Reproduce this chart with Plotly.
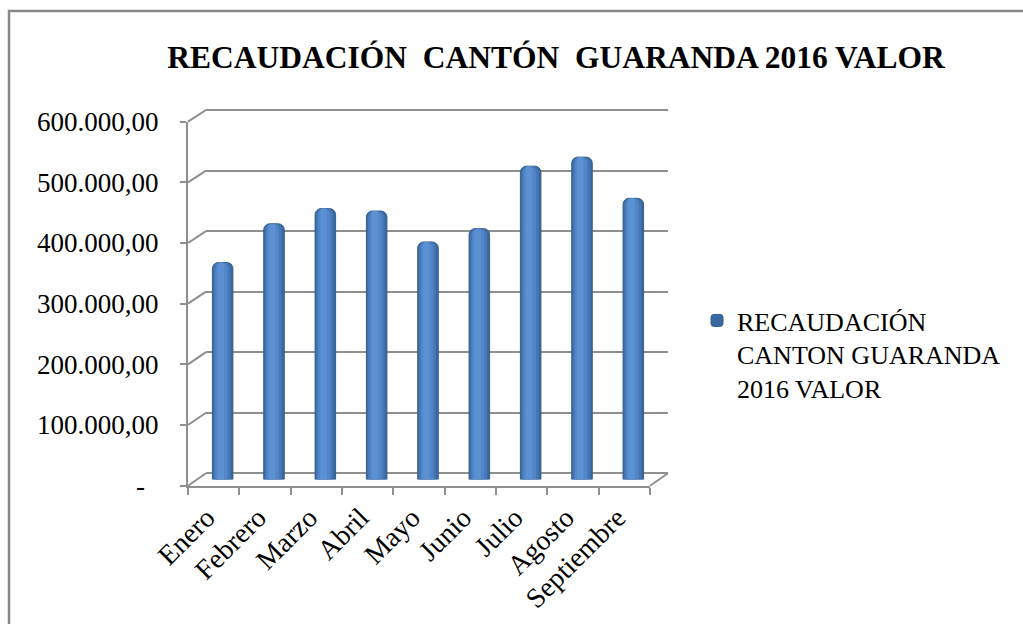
import plotly.graph_objects as go

# ---------------- data ----------------
months = ["Enero", "Febrero", "Marzo", "Abril", "Mayo", "Junio", "Julio", "Agosto", "Septiembre"]
values = [358000, 422000, 447000, 443000, 392000, 414000, 517000, 532000, 464000]
series_name = "RECAUDACIÓN<br>CANTON GUARANDA<br>2016 VALOR"
title_text = "RECAUDACIÓN\u00a0 CANTÓN\u00a0 GUARANDA 2016 VALOR"
y_tickvals = [0, 100000, 200000, 300000, 400000, 500000, 600000]
y_ticktext = ["-\u00a0\u00a0", "100.000,00", "200.000,00", "300.000,00", "400.000,00", "500.000,00", "600.000,00"]
Y_MAX = 600000

# ---------------- geometry (pixels) ----------------
W, H = 1023, 624
FONT = "Liberation Serif, serif"
GRID = "#8f8f8f"

def px(x):
    return x / W

def py(y):
    return 1 - y / H

front = dict(x0=188, x1=650, yb=485.7, yt=121.7)
back = dict(x0=206, x1=668, yb=473.3, yt=110.0)
mid = dict(x0=197, x1=659, yb=479.5, yt=115.9)
LABEL_SHIFT = 7  # px, category labels sit a little left of the category centres
PADV = 3000      # value padding so the edge gridlines of the back wall are drawn

fig = go.Figure()

fig.add_trace(go.Scatter(x=[], y=[], xaxis="x", yaxis="y", showlegend=False, hoverinfo="skip"))
fig.add_trace(go.Scatter(x=months, y=values, xaxis="x2", yaxis="y2", mode="markers",
                         marker=dict(opacity=0), showlegend=False, hoverinfo="skip"))
fig.add_trace(go.Scatter(x=[], y=[], xaxis="x4", yaxis="y2", showlegend=False, hoverinfo="skip"))

layers = [
    dict(width=0.40, offset=-0.20, color="#3a679f", legend=True, line="#34608f"),
    dict(width=0.33, offset=-0.175, color="#4777b5", legend=False, line=None),
    dict(width=0.24, offset=-0.14, color="#5286c8", legend=False, line=None),
    dict(width=0.13, offset=-0.10, color="#5b90d2", legend=False, line=None),
]
for i, L in enumerate(layers):
    fig.add_trace(go.Bar(
        x=months, y=values, xaxis="x3", yaxis="y3",
        width=[L["width"]] * len(months), offset=[L["offset"]] * len(months),
        marker=dict(color=L["color"],
                    line=dict(width=1 if L["line"] else 0, color=L["line"] or L["color"]),
                    cornerradius=6),
        name=series_name, showlegend=L["legend"], hoverinfo="skip",
    ))

shapes = []
def yfront(v):
    return front["yb"] + (front["yt"] - front["yb"]) * v / Y_MAX

def yback(v):
    return back["yb"] + (back["yt"] - back["yb"]) * v / Y_MAX

for v in y_tickvals:
    shapes.append(dict(type="line", xref="paper", yref="paper",
                       x0=px(front["x0"]), y0=py(yfront(v)), x1=px(back["x0"]), y1=py(yback(v)),
                       line=dict(color=GRID, width=2)))
shapes.append(dict(type="line", xref="paper", yref="paper",
                   x0=px(front["x1"]), y0=py(front["yb"]), x1=px(back["x1"]), y1=py(back["yb"]),
                   line=dict(color=GRID, width=2)))
shapes.append(dict(type="rect", xref="paper", yref="paper",
                   x0=px(9), y0=-0.05, x1=1.05, y1=py(11),
                   line=dict(color="#878787", width=2.5), fillcolor="rgba(0,0,0,0)"))

back_dom = [py(yback(-PADV)), py(yback(Y_MAX + PADV))]

fig.update_layout(
    width=W, height=H, autosize=False,
    margin=dict(l=0, r=0, t=0, b=0, pad=0, autoexpand=False),
    paper_bgcolor="white", plot_bgcolor="rgba(0,0,0,0)",
    font=dict(family=FONT, size=26, color="#000000"),
    barmode="overlay",
    title=dict(text="<b>" + title_text + "</b>", x=px(556), y=py(57), xanchor="center", yanchor="middle",
               automargin=False, font=dict(family=FONT, size=31.5, color="#000000")),
    showlegend=True,
    legend=dict(x=px(697), y=py(297), xanchor="left", yanchor="top", valign="top",
                font=dict(family=FONT, size=26, color="#000000"), bgcolor="rgba(0,0,0,0)",
                itemwidth=30),
    shapes=shapes,
    xaxis=dict(domain=[px(back["x0"]), px(back["x1"])], anchor="y", visible=False, range=[0, 1]),
    yaxis=dict(domain=back_dom, anchor="x", range=[-PADV, Y_MAX + PADV],
               showgrid=True, gridcolor=GRID, gridwidth=2, tickvals=y_tickvals,
               showticklabels=False, zeroline=False, showline=False, ticks=""),
    xaxis2=dict(domain=[px(front["x0"]), px(front["x1"])], anchor="y2", type="category",
                categoryorder="array", categoryarray=months, range=[-0.5, len(months) - 0.5],
                showgrid=False, showline=True, linecolor=GRID, linewidth=2, automargin=False,
                ticks="outside", tickson="boundaries", ticklen=7, tickcolor=GRID, tickwidth=2,
                showticklabels=False),
    xaxis4=dict(domain=[px(front["x0"] - LABEL_SHIFT), px(front["x1"] - LABEL_SHIFT)], anchor="y2",
                range=[-0.5, len(months) - 0.5], tickvals=list(range(len(months))), ticktext=months,
                showgrid=False, showline=False, zeroline=False, ticks="", automargin=False,
                ticklabelstandoff=9,
                tickangle=-45, tickfont=dict(family=FONT, size=28, color="#000000")),
    yaxis2=dict(domain=[py(front["yb"]), py(front["yt"])], anchor="x2", range=[0, Y_MAX],
                showgrid=False, zeroline=False, showline=True, linecolor=GRID, linewidth=2,
                automargin=False,
                ticks="outside", ticklen=6, tickcolor=GRID, tickwidth=2,
                tickvals=y_tickvals, ticktext=y_ticktext, ticklabelstandoff=16,
                tickfont=dict(family=FONT, size=27, color="#000000")),
    xaxis3=dict(domain=[px(mid["x0"]), px(mid["x1"])], anchor="y3", type="category",
                categoryorder="array", categoryarray=months, range=[-0.5, len(months) - 0.5],
                visible=False),
    yaxis3=dict(domain=[py(mid["yb"]), py(mid["yt"])], anchor="x3", range=[0, Y_MAX],
                visible=False, showgrid=False, zeroline=False),
)

fig.write_html("out.html", config={"displayModeBar": False},
               post_script="document.body.style.margin='0px';")
